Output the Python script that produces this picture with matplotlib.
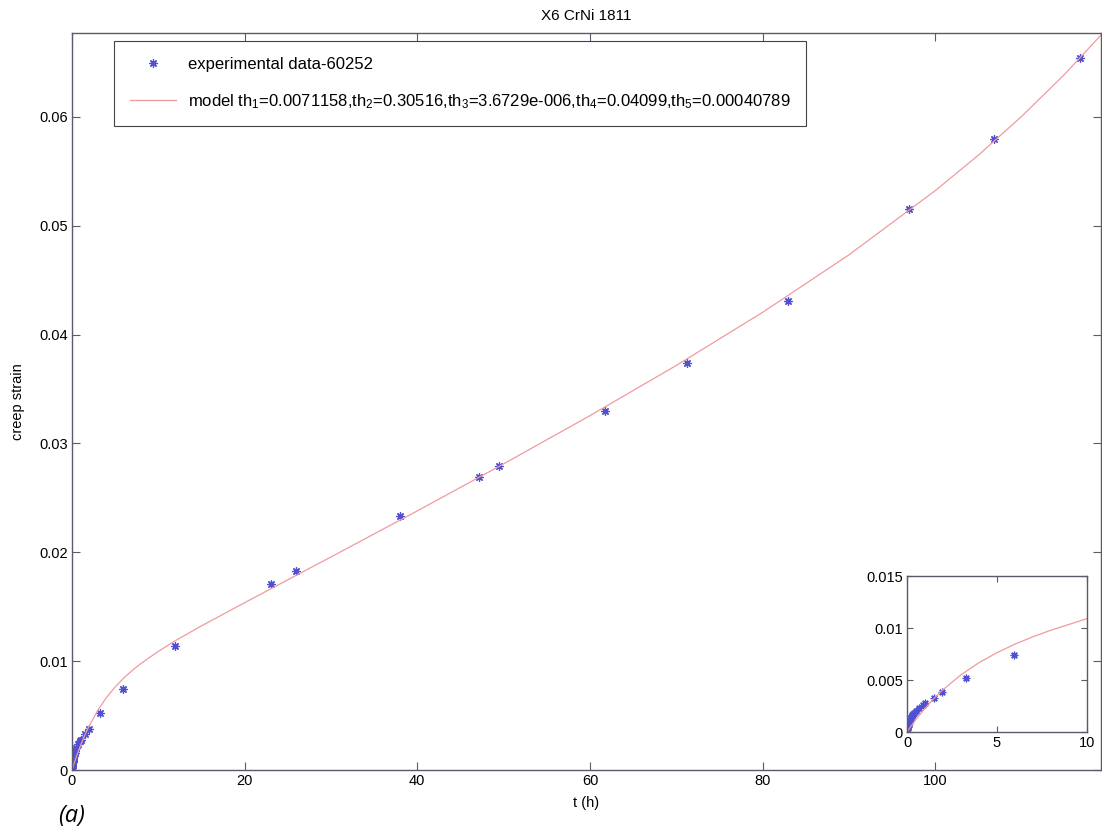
import numpy as np
import matplotlib
matplotlib.use('Agg')
import matplotlib.pyplot as plt

plt.rcParams['font.family'] = ['Liberation Sans', 'DejaVu Sans']
plt.rcParams['mathtext.default'] = 'regular'

t_exp = [0, 0.008, 0.017, 0.025, 0.033, 0.05, 0.067, 0.083, 0.1, 0.12, 0.15, 0.17,
         0.2, 0.25, 0.3, 0.35, 0.4, 0.5, 0.67, 0.89, 1.0, 1.49, 1.97, 3.3, 5.93,
         11.9, 23.0, 25.9, 38.0, 47.2, 49.5, 61.7, 71.2, 82.9, 97.0, 106.8, 116.8]
eps_exp = [0, 0.0002, 0.0003, 0.0004, 0.0005, 0.0006, 0.0007, 0.0008, 0.0009, 0.001,
           0.0011, 0.0012, 0.0013, 0.0015, 0.0016, 0.0017, 0.0018, 0.002, 0.00235,
           0.00263, 0.0028, 0.0033, 0.0038, 0.0052, 0.0074, 0.0114, 0.0171, 0.0183,
           0.0233, 0.0269, 0.0279, 0.0330, 0.0374, 0.0431, 0.0515, 0.0580, 0.0654]

# Model curve
t_model = [0, 0.1, 0.25, 0.5, 1, 1.5, 2, 3, 4, 5, 6, 7, 8, 10, 12, 15, 20, 25, 30,
           40, 50, 60, 70, 80, 90, 100, 105, 110, 115, 119.2]
eps_model = [0, 0.00026, 0.00063, 0.00121, 0.00228, 0.00323, 0.00407, 0.00550,
             0.00667, 0.00763, 0.00845, 0.00916, 0.00979, 0.01090, 0.01189, 0.01324,
             0.01537, 0.01747, 0.01957, 0.02380, 0.02812, 0.03255, 0.03716, 0.04204,
             0.04732, 0.05322, 0.05648, 0.06003, 0.06392, 0.06751]

# Ticks
x_ticks = [0, 20, 40, 60, 80, 100]
y_ticks = [0, 0.01, 0.02, 0.03, 0.04, 0.05, 0.06]
y_ticklabels = ['0', '0.01', '0.02', '0.03', '0.04', '0.05', '0.06']
ins_x_ticks = [0, 5, 10]
ins_y_ticks = [0, 0.005, 0.01, 0.015]
ins_y_ticklabels = ['0', '0.005', '0.01', '0.015']

exp_label = 'experimental data-60252'
model_label = ('model th$_1$=0.0071158,th$_2$=0.30516,th$_3$=3.6729e-006,'
               'th$_4$=0.04099,th$_5$=0.00040789')

blue = '#5050d2'
pink = '#f09aa0'
spine_col = '#5a5a6a'
asterisk = (8, 2, 0)

fig = plt.figure(figsize=(11.02, 8.33), dpi=100)
ax = fig.add_axes([72/1102, 63/833, 1029/1102, 737/833])

ax.plot(t_exp, eps_exp, linestyle='none', marker=asterisk, color=blue,
        markersize=6, markeredgewidth=0.9, label=exp_label)
ax.plot(t_model, eps_model, color=pink, linewidth=0.9, label=model_label)

ax.set_xlim(0, 119.2)
ax.set_ylim(0, 0.0677)
ax.set_xticks(x_ticks)
ax.set_xticklabels([str(v) for v in x_ticks])
ax.set_yticks(y_ticks)
ax.set_yticklabels(y_ticklabels)
ax.tick_params(direction='in', length=6, width=0.8, color=spine_col,
               top=True, right=True, labelsize=10.5, pad=3)
for s in ax.spines.values():
    s.set_color(spine_col)
    s.set_linewidth(1.0)

ax.set_title('X6 CrNi 1811', fontsize=11, pad=9)
ax.set_xlabel('t (h)', fontsize=10.5, labelpad=6)
ax.set_ylabel('creep strain', fontsize=10.5, labelpad=10)

leg = ax.legend(loc='upper left', bbox_to_anchor=(0.041, 0.989), fontsize=12,
                frameon=True, fancybox=False, framealpha=1, edgecolor='#444444',
                borderpad=0.95, handlelength=2.75, handletextpad=0.7,
                labelspacing=1.2, borderaxespad=0)
leg.get_frame().set_linewidth(0.8)

# Inset
ins = fig.add_axes([907/1102, 101/833, 180/1102, 156/833])
ins.plot(t_exp, eps_exp, linestyle='none', marker=asterisk, color=blue,
         markersize=5.5, markeredgewidth=0.9)
ins.plot(t_model, eps_model, color=pink, linewidth=0.9)
ins.set_xlim(0, 10)
ins.set_ylim(0, 0.015)
ins.set_xticks(ins_x_ticks)
ins.set_xticklabels([str(v) for v in ins_x_ticks])
ins.set_yticks(ins_y_ticks)
ins.set_yticklabels(ins_y_ticklabels)
ins.tick_params(direction='in', length=4, width=0.8, color=spine_col,
                top=True, right=True, labelsize=10.5, pad=3)
for s in ins.spines.values():
    s.set_color(spine_col)
    s.set_linewidth(1.0)

fig.text(58/1102, 1 - 816/833, '(a)', fontsize=17, style='italic',
         family=['Open Sans', 'DejaVu Sans'], va='center', ha='left')

fig.savefig('out.png', dpi=100)
plt.close(fig)
